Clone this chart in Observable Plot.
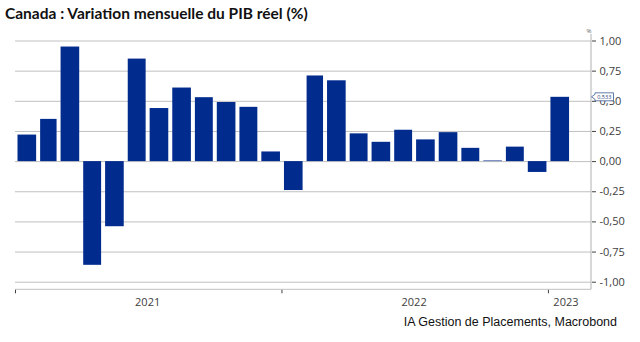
<!DOCTYPE html>
<html><head><meta charset="utf-8">
<script src="https://cdn.jsdelivr.net/npm/d3@7"></script>
<script src="https://cdn.jsdelivr.net/npm/@observablehq/plot@0.6"></script>
<style>
body{margin:0;background:#fff;width:640px;height:342px;overflow:hidden;}
#title{font-family:Lato,"Open Sans",sans-serif;font-weight:700;font-size:15.5px;color:#111;padding:3px 0 0 5px;height:20px;line-height:20px;white-space:nowrap}
#chart svg{display:block}
#source{font-family:"Liberation Sans",Arial,sans-serif;font-size:12.5px;color:#111;text-align:right;padding-right:23px;line-height:18px;height:18px;white-space:nowrap}
</style></head><body>
<div id="title">Canada : Variation mensuelle du PIB réel (%)</div>
<div id="chart"></div>
<div id="source">IA Gestion de Placements, Macrobond</div>
<script>
// Data
const months = ["2021-01","2021-02","2021-03","2021-04","2021-05","2021-06","2021-07","2021-08","2021-09","2021-10","2021-11","2021-12",
                "2022-01","2022-02","2022-03","2022-04","2022-05","2022-06","2022-07","2022-08","2022-09","2022-10","2022-11","2022-12",
                "2023-01"];
const values = [0.22,0.35,0.95,-0.86,-0.54,0.85,0.44,0.61,0.53,0.49,0.45,0.08,
                -0.24,0.71,0.67,0.23,0.16,0.26,0.18,0.24,0.11,0.005,0.12,-0.09,
                0.533];
const yTicks = [-1,-0.75,-0.5,-0.25,0,0.25,0.5,0.75,1];
const yearTicks = ["2021-01-01","2022-01-01","2023-01-01"];
const yearLabels = ["2021","2022","2023"];
const yearLabelDates = ["2021-07-01","2022-07-01","2023-01-25"];
const xDomain = ["2021-01-01","2023-03-01"];
const yDomain = [-1, 1];
const calloutText = "0,533";
const unitLabel = "%";

const parse = d3.utcParse("%Y-%m");
const data = months.map((m, i) => ({start: parse(m), end: d3.utcMonth.offset(parse(m), 1), value: values[i]}));
const years = yearLabels.map((l, i) => ({date: new Date(yearLabelDates[i]), label: l}));
const fmt = d => d.toFixed(2).replace(".", ",");

const W = 640, H = 290, mL = 15, mR = 49, mT = 5, mB = 23.7;

const plot = Plot.plot({
  width: W, height: H,
  marginLeft: mL, marginRight: mR, marginTop: mT, marginBottom: mB,
  style: {fontFamily: "'Open Sans', sans-serif", fontSize: "11px", background: "#fff", overflow: "visible"},
  x: {type: "utc", domain: xDomain.map(d => new Date(d)), label: null},
  y: {domain: yDomain, insetTop: 12.5, insetBottom: 7.6, label: null},
  marks: [
    Plot.ruleY(yTicks, {stroke: "#c0c0c0", strokeWidth: 1}),
    Plot.rectY(data, {x1: "start", x2: "end", y: "value", fill: "#022b8e", insetLeft: 2.5, insetRight: 1.5}),
    Plot.axisY({anchor: "right", ticks: yTicks, tickSize: 4, tickPadding: 4, tickFormat: fmt, color: "#404040", label: null}),
    Plot.axisX({ticks: yearTicks.map(d => new Date(d)), tickSize: 4, tickFormat: () => "", stroke: "#404040", label: null}),
    Plot.text(years, {x: "date", text: "label", frameAnchor: "bottom", dy: 15.7, fill: "#404040", fontSize: 11}),
    Plot.text([unitLabel], {frameAnchor: "top-right", text: d => d, fontSize: 6, fill: "#666", dy: 0})
  ]
});
document.getElementById("chart").appendChild(plot);

// axis lines
const svg = d3.select(plot);
const yb = H - mB;
svg.append("line").attr("x1", mL).attr("x2", W - mR).attr("y1", yb).attr("y2", yb).attr("stroke", "#c0c0c0");
svg.append("line").attr("x1", W - mR).attr("x2", W - mR).attr("y1", mT + 6).attr("y2", yb).attr("stroke", "#b0b0b0");

// callout for last value
const yScale = plot.scale("y");
const cy = yScale.apply(values[values.length - 1]);
const ax = W - mR + 0.5;
const g = svg.append("g");
g.append("path")
  .attr("d", `M${ax},${cy} L${ax+3.5},${cy-2.5} L${ax+3.5},${cy-4} L${ax+22},${cy-4} L${ax+22},${cy+4} L${ax+3.5},${cy+4} L${ax+3.5},${cy+2.5} Z`)
  .attr("fill", "#fff").attr("stroke", "#3b5a96").attr("stroke-width", 0.8);
g.append("text").attr("x", ax + 12.8).attr("y", cy).attr("dy", "0.35em")
  .attr("text-anchor", "middle").attr("font-size", 5.5).attr("fill", "#1f3b7a").text(calloutText);
</script>
</body></html>
